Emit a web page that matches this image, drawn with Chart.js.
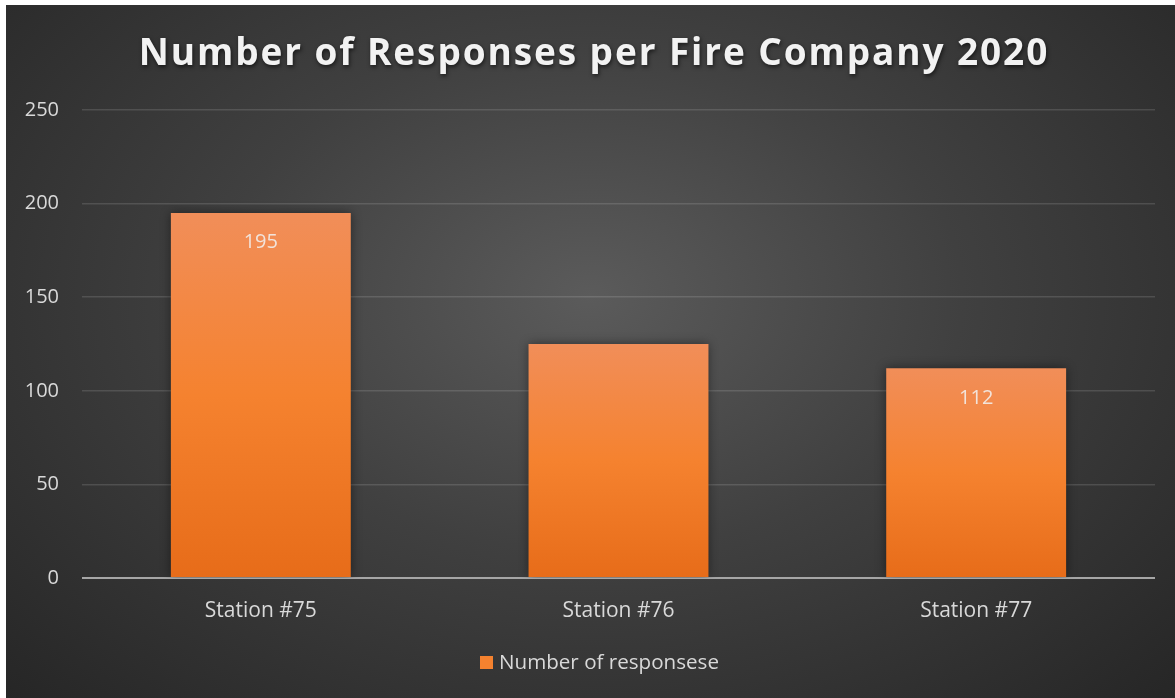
<!DOCTYPE html>
<html>
<head>
<meta charset="utf-8">
<script src="https://cdn.jsdelivr.net/npm/chart.js@4.4.0/dist/chart.umd.min.js"></script>
<style>
    html, body { margin: 0; padding: 0; background: #ffffff; }
    #wrap {
        position: absolute; left: 6px; top: 5px; width: 1169px; height: 693px;
        background: radial-gradient(ellipse farthest-corner at 50% 42%, #5b5b5b 0%, #404040 45%, #262626 100%);
    }
</style>
</head>
<body>
<div id="wrap"><canvas id="chart" width="1169" height="693"></canvas></div>
<script>
const titleText = "Number of Responses per Fire Company 2020";
const stations = ["Station #75", "Station #76", "Station #77"];
const responses = [195, 125, 112];
const showValue = [true, false, true];
const seriesName = "Number of responsese";
const yTicks = [0, 50, 100, 150, 200, 250];

// dégradé vertical pour chaque barre
function barGradient(context) {
    const chart = context.chart;
    if (!chart.chartArea || context.type !== 'data') return '#f4822f';
    const y = chart.scales.y;
    const top = y.getPixelForValue(context.raw);
    const bottom = y.getPixelForValue(0);
    const g = chart.ctx.createLinearGradient(0, top, 0, bottom);
    g.addColorStop(0, '#f18e59');
    g.addColorStop(0.5, '#f5822f');
    g.addColorStop(1, '#e76c19');
    return g;
}

const barShadow = {
    id: 'barShadow',
    beforeDatasetsDraw(chart) {
        const ctx = chart.ctx;
        ctx.save();
        ctx.shadowColor = 'rgba(0,0,0,0.45)';
        ctx.shadowBlur = 10;
        ctx.shadowOffsetX = 0;
        ctx.shadowOffsetY = 0;
    },
    afterDatasetsDraw(chart) {
        chart.ctx.restore();
    }
};

const valueLabels = {
    id: 'valueLabels',
    afterDatasetsDraw(chart) {
        const ctx = chart.ctx;
        const meta = chart.getDatasetMeta(0);
        ctx.save();
        ctx.font = '20px "Open Sans"';
        ctx.fillStyle = 'rgba(242,242,242,0.85)';
        ctx.textAlign = 'center';
        ctx.textBaseline = 'middle';
        meta.data.forEach((bar, i) => {
            if (!showValue[i]) return;
            ctx.fillText(String(responses[i]), bar.x, bar.y + 29.5);
        });
        ctx.restore();
    }
};

// titre et légende dessinés à la main
const titleAndLegend = {
    id: 'titleAndLegend',
    afterDraw(chart) {
        const ctx = chart.ctx;
        ctx.save();
        ctx.font = 'bold 37px "Open Sans"';
        ctx.letterSpacing = '1.9px';
        ctx.fillStyle = '#f2f2f2';
        ctx.textAlign = 'center';
        ctx.textBaseline = 'middle';
        ctx.shadowColor = 'rgba(0,0,0,0.6)';
        ctx.shadowBlur = 4;
        ctx.shadowOffsetX = 1;
        ctx.shadowOffsetY = 2;
        ctx.fillText(titleText, 588, 49);
        ctx.restore();

        ctx.save();
        ctx.fillStyle = '#f5822f';
        ctx.fillRect(474, 651, 13, 13);
        ctx.font = '20.6px "Open Sans"';
        ctx.fillStyle = '#d9d9d9';
        ctx.textAlign = 'left';
        ctx.textBaseline = 'middle';
        ctx.fillText(seriesName, 493, 658);
        ctx.restore();
    }
};

const ctx = document.getElementById('chart').getContext('2d');
const chart = new Chart(ctx, {
    type: 'bar',
    data: {
        labels: stations,
        datasets: [{
            label: seriesName,
            data: responses,
            backgroundColor: barGradient,
            borderWidth: 0,
            categoryPercentage: 0.503,
            barPercentage: 1
        }]
    },
    options: {
        responsive: false,
        animation: false,
        layout: { padding: { top: 105, right: 20, left: 0, bottom: 72 } },
        plugins: {
            title: { display: false },
            tooltip: { enabled: false },
            legend: { display: false }
        },
        scales: {
            x: {
                grid: { display: false, drawTicks: false },
                border: { display: false },
                afterFit(scale) { scale.height = 48; },
                ticks: {
                    color: '#d9d9d9',
                    font: { family: '"Open Sans"', size: 21 },
                    padding: 20
                }
            },
            y: {
                min: 0,
                max: 250,
                afterBuildTicks(scale) {
                    scale.ticks = yTicks.map(v => ({ value: v }));
                },
                afterFit(scale) { scale.width = 76; },
                grid: {
                    drawTicks: false,
                    color: c => c.tick && c.tick.value === 0 ? '#a6a6a6' : 'rgba(255,255,255,0.13)',
                    lineWidth: c => c.tick && c.tick.value === 0 ? 2 : 1.5
                },
                border: { display: false },
                ticks: {
                    color: '#d9d9d9',
                    font: { family: '"Open Sans"', size: 20 },
                    padding: 23
                }
            }
        }
    },
    plugins: [barShadow, valueLabels, titleAndLegend]
});
</script>
</body>
</html>
